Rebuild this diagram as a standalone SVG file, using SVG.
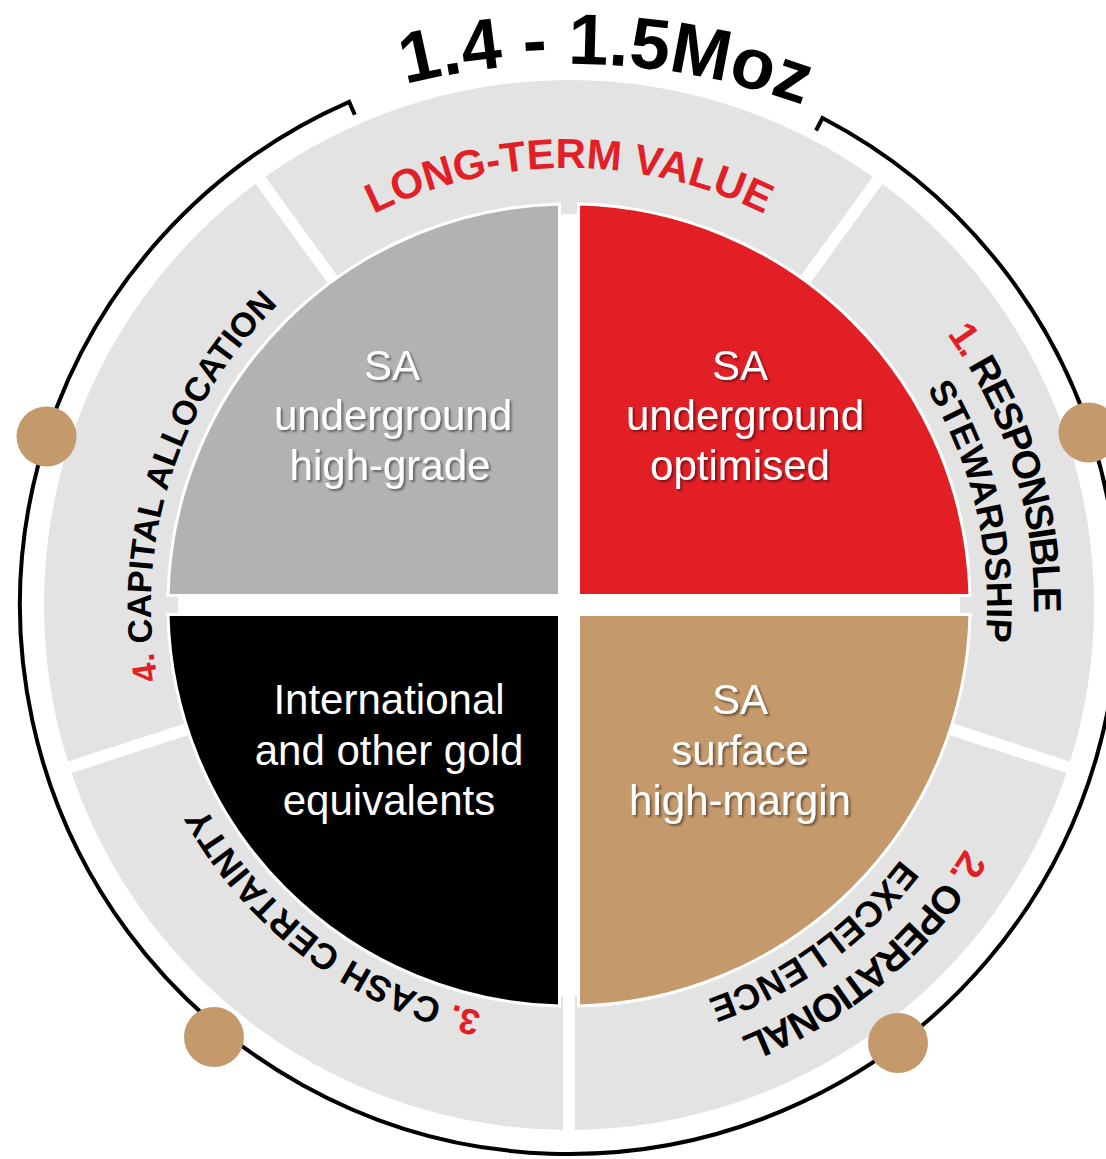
<svg xmlns="http://www.w3.org/2000/svg" xmlns:xlink="http://www.w3.org/1999/xlink" width="1106" height="1159" viewBox="0 0 1106 1159">
  <style>
    .ring { fill: #e3e3e3; }
    .divider { stroke: #ffffff; stroke-width: 12; }
    .quad { stroke: #ffffff; stroke-width: 3; }
    .qlabel { font-family: "Liberation Sans", Arial, sans-serif; font-size: 42px; fill: #ffffff; text-anchor: middle; }
    .rlabel { font-family: "Liberation Sans", Arial, sans-serif; font-weight: bold; font-size: 36px; fill: #000000; }
    .outer { font-size: 39px; letter-spacing: -2px; }
    .num { fill: #e21f26; }
    .dot { fill: #c4996b; }
  </style>
  <defs>
    <filter id="soft-shadow" x="-10%" y="-10%" width="130%" height="140%">
      <feDropShadow dx="2" dy="2" stdDeviation="1.2" flood-color="#000000" flood-opacity="0.45"/>
    </filter>
    <!-- clockwise circles round the hub, each starting at the bottom point -->
    <path id="c437" d="M569,1042 A437,437 0 1 1 569,168 A437,437 0 1 1 569,1042"/>
    <path id="c465" d="M569,1070 A465,465 0 1 1 569,140 A465,465 0 1 1 569,1070"/>
    <path id="c418" d="M569,1023 A418,418 0 1 1 569,187 A418,418 0 1 1 569,1023"/>
    <path id="c416" d="M569,1021 A416,416 0 1 1 569,189 A416,416 0 1 1 569,1021"/>
    <path id="title-arc" d="M132.9,223.1 A680,680 0 0 1 1007.1,223.1"/>
  </defs>

  <rect width="1106" height="1159" fill="#ffffff"/>

  <!-- outer ring segments -->
  <g id="seg-long-term-value">
    <path class="ring" d="M260.41,180.26 A525,525 0 0 1 877.59,180.26 L798.83,288.67 A391,391 0 0 0 339.17,288.67 Z"/>
  </g>
  <g id="seg-responsible-stewardship">
    <path class="ring" d="M877.59,180.26 A525,525 0 0 1 1068.31,767.24 L940.86,725.83 A391,391 0 0 0 798.83,288.67 Z"/>
  </g>
  <g id="seg-operational-excellence">
    <path class="ring" d="M1068.31,767.24 A525,525 0 0 1 569,1130 L569,996 A391,391 0 0 0 940.86,725.83 Z"/>
  </g>
  <g id="seg-cash-certainty">
    <path class="ring" d="M569,1130 A525,525 0 0 1 69.69,767.24 L197.14,725.83 A391,391 0 0 0 569,996 Z"/>
  </g>
  <g id="seg-capital-allocation">
    <path class="ring" d="M69.69,767.24 A525,525 0 0 1 260.41,180.26 L339.17,288.67 A391,391 0 0 0 197.14,725.83 Z"/>
  </g>

  <!-- white separators between ring segments -->
  <g id="dividers">
    <line class="divider" x1="345.64" y1="297.57" x2="254.53" y2="172.17"/>
    <line class="divider" x1="792.36" y1="297.57" x2="883.47" y2="172.17"/>
    <line class="divider" x1="930.40" y1="722.43" x2="1077.82" y2="770.33"/>
    <line class="divider" x1="569" y1="985" x2="569" y2="1140"/>
    <line class="divider" x1="207.60" y1="722.43" x2="60.18" y2="770.33"/>
  </g>

  <!-- ring labels -->
  <g id="label-long-term-value">
    <text font-family="Liberation Sans, Arial, sans-serif" font-weight="bold" font-size="42" fill="#e21f26" text-anchor="middle"><textPath xlink:href="#c437" href="#c437" startOffset="1372.9">LONG-TERM VALUE</textPath></text>
  </g>
  <g id="label-responsible-stewardship">
    <text class="rlabel outer" text-anchor="middle"><textPath xlink:href="#c465" href="#c465" startOffset="2049.2"><tspan class="num">1.</tspan> RESPONSIBLE</textPath></text>
    <text class="rlabel" text-anchor="middle"><textPath xlink:href="#c418" href="#c418" startOffset="1874.2">STEWARDSHIP</textPath></text>
  </g>
  <g id="label-operational-excellence">
    <text class="rlabel outer" text-anchor="middle"><textPath xlink:href="#c465" href="#c465" startOffset="2595.4"><tspan class="num">2.</tspan> OPERATIONAL</textPath></text>
    <text class="rlabel" text-anchor="middle"><textPath xlink:href="#c418" href="#c418" startOffset="2363.4">EXCELLENCE</textPath></text>
  </g>
  <g id="label-cash-certainty">
    <text class="rlabel" text-anchor="middle"><textPath xlink:href="#c416" href="#c416" startOffset="265.7"><tspan class="num">3.</tspan> CASH CERTAINTY</textPath></text>
  </g>
  <g id="label-capital-allocation">
    <text class="rlabel" style="font-size:34px" text-anchor="middle"><textPath xlink:href="#c418" href="#c418" startOffset="786.1"><tspan class="num">4.</tspan> CAPITAL ALLOCATION</textPath></text>
  </g>

  <!-- four quadrants -->
  <g id="q-sa-underground-high-grade">
    <path class="quad" fill="#b2b2b2" d="M559.5,595.5 V204 A401,401 0 0 0 168,595.5 Z"/>
    <text class="qlabel" filter="url(#soft-shadow)"><tspan x="392" y="380">SA</tspan><tspan x="393" y="430">underground</tspan><tspan x="390" y="480">high-grade</tspan></text>
  </g>
  <g id="q-sa-underground-optimised">
    <path class="quad" fill="#e31f26" d="M578.5,595.5 V204 A401,401 0 0 1 970,595.5 Z"/>
    <text class="qlabel" filter="url(#soft-shadow)"><tspan x="740" y="380">SA</tspan><tspan x="745" y="430">underground</tspan><tspan x="740" y="480">optimised</tspan></text>
  </g>
  <g id="q-international">
    <path class="quad" fill="#000000" d="M559.5,614.5 V1006 A401,401 0 0 1 168,614.5 Z"/>
    <text class="qlabel"><tspan x="389" y="714">International</tspan><tspan x="389" y="765">and other gold</tspan><tspan x="389" y="815">equivalents</tspan></text>
  </g>
  <g id="q-sa-surface-high-margin">
    <path class="quad" fill="#c4996b" d="M578.5,614.5 V1006 A401,401 0 0 0 970,614.5 Z"/>
    <text class="qlabel" filter="url(#soft-shadow)"><tspan x="740" y="714">SA</tspan><tspan x="740" y="765">surface</tspan><tspan x="740" y="815">high-margin</tspan></text>
  </g>

  <!-- outer bracket arc, open at the top for the headline -->
  <g id="outline-arc">
    <path d="M816.0,130.5 L822.5,118.0 A549,549 0 1 1 349.2,101.9 L354.8,114.7" fill="none" stroke="#000000" stroke-width="4" stroke-linejoin="miter"/>
  </g>

  <!-- markers on the arc -->
  <g id="markers">
    <circle class="dot" cx="46.5" cy="436.5" r="30"/>
    <circle class="dot" cx="1088.5" cy="432.5" r="30"/>
    <circle class="dot" cx="214" cy="1037" r="30"/>
    <circle class="dot" cx="898" cy="1043" r="30"/>
  </g>

  <!-- headline -->
  <g id="headline">
    <text font-family="Liberation Sans, Arial, sans-serif" font-weight="bold" font-size="72" fill="#000000" text-anchor="middle"><textPath xlink:href="#title-arc" href="#title-arc" startOffset="510.3">1.4 - 1.5Moz</textPath></text>
  </g>
</svg>
